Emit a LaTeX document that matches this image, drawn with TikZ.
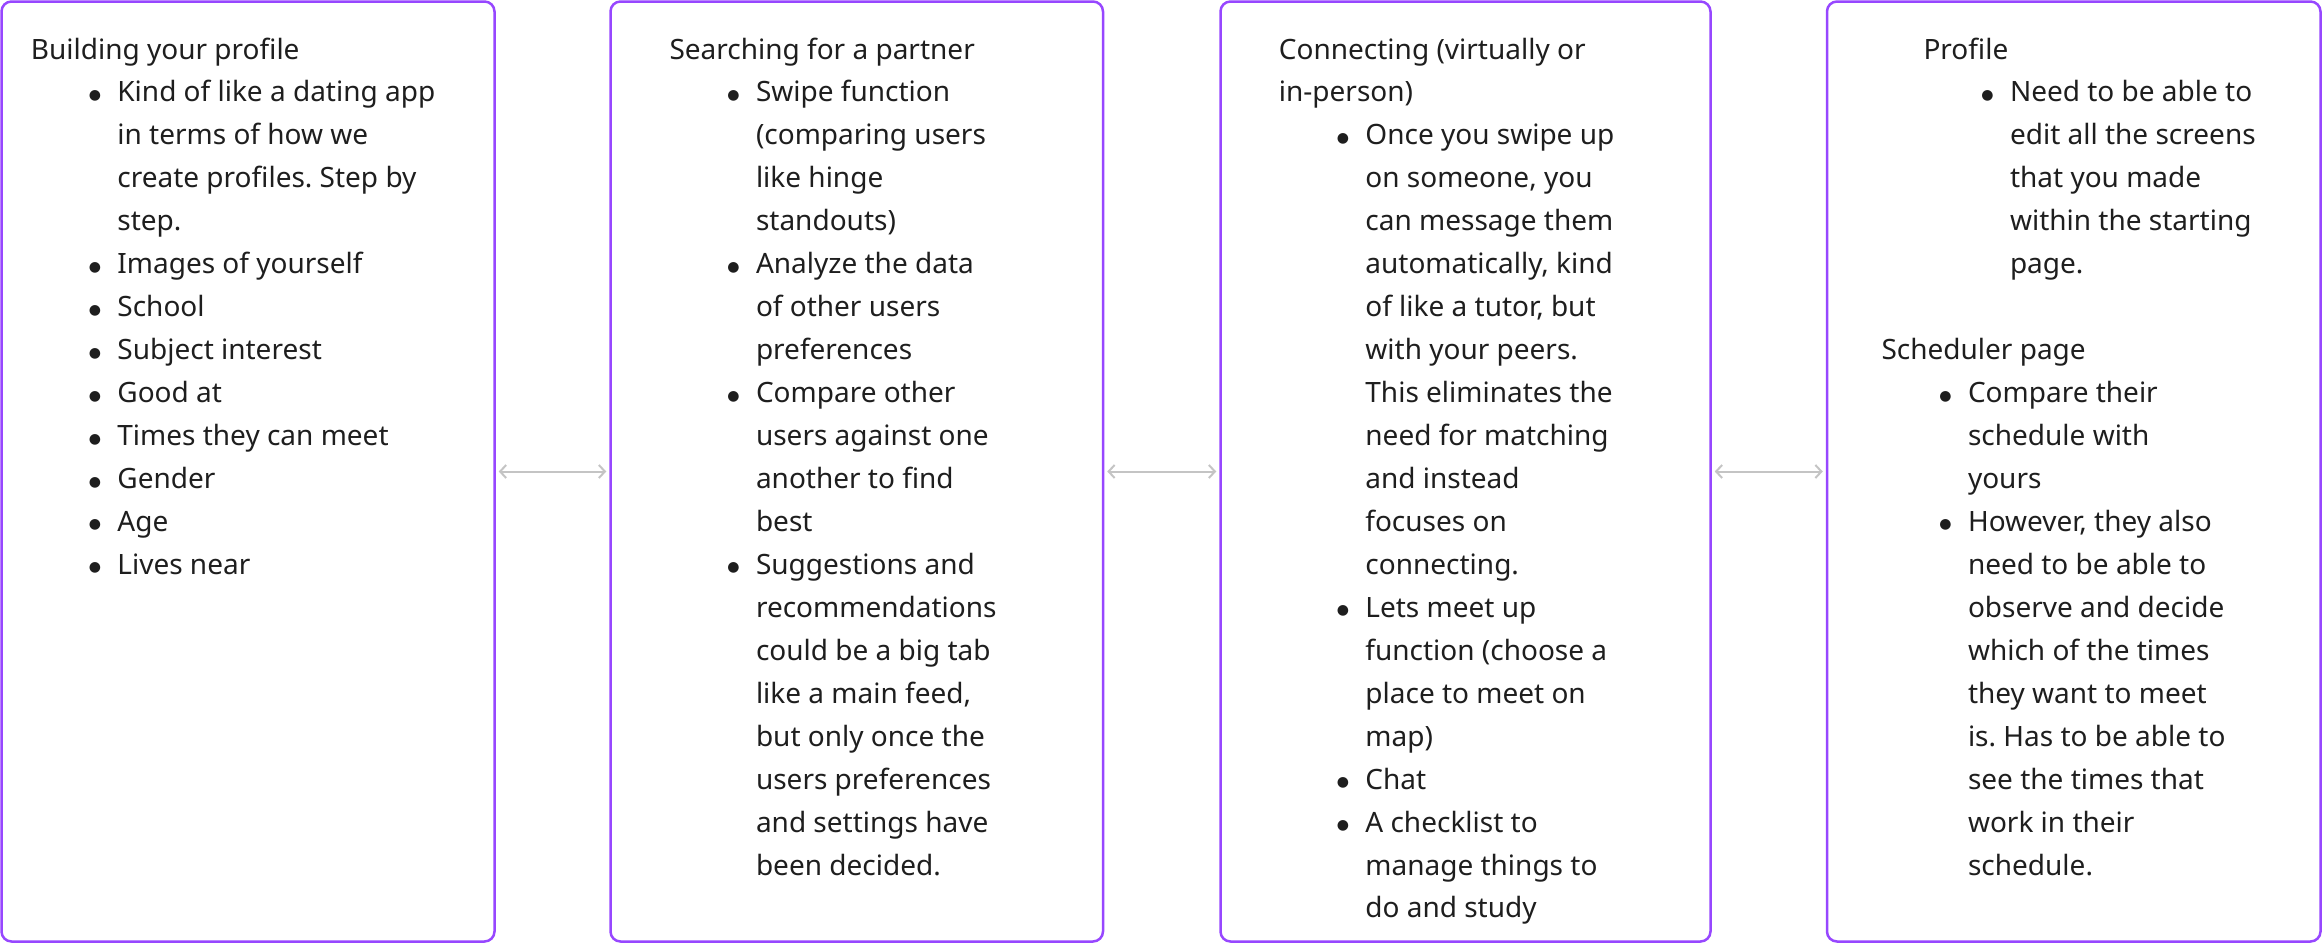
\documentclass[tikz,border=0pt]{standalone}
\usepackage{fontspec}
\setmainfont{Noto Sans}
\newfontfamily\dejavu{DejaVu Sans}
\usetikzlibrary{arrows.meta}
\definecolor{frame}{HTML}{9747FF}
\definecolor{ink}{HTML}{1E1E1E}
\definecolor{linkc}{HTML}{C4C4C4}
\frenchspacing
\newdimen\mybx \mybx=64pt
\newdimen\mytx \mytx=86.5pt
\newcommand\dotmark{\raisebox{2.5pt}{\dejavu\fontsize{14pt}{14pt}\selectfont ●}}
\newcommand\bl[1]{\hbox{\hskip\mybx\makebox[0pt]{\dotmark}\hskip\dimexpr\mytx-\mybx\relax #1}}
\newcommand\cl[1]{\hbox{\hskip\mytx #1}}
\newcommand\hl[1]{\hbox{#1}}
\newcommand\lines[1]{\vtop{\fontsize{28pt}{42.95pt}\selectfont #1}}
\begin{document}
\begin{tikzpicture}[x=1pt,y=-1pt,
  box/.style={draw=frame, line width=2.5pt, rounded corners=10pt, inner sep=0pt, minimum height=940pt},
  txt/.style={anchor=base west, inner sep=0pt, text=ink},
  link/.style={draw=linkc, line width=2pt, {Straight Barb[length=6pt,width=13pt]}-{Straight Barb[length=6pt,width=13pt]}, shorten >=3pt, shorten <=3pt}]
\useasboundingbox (0,0) rectangle (2322,945);
\node[box, minimum width=493pt] (b1) at (248,471.5) {};
\node[box, minimum width=492.5pt] (b2) at (856.75,471.5) {};
\node[box, minimum width=490pt] (b3) at (1465.5,471.5) {};
\node[box, minimum width=493.5pt] (b4) at (2073.75,471.5) {};
\draw[link] (b1.east) -- (b2.west);
\draw[link] (b2.east) -- (b3.west);
\draw[link] (b3.east) -- (b4.west);
\node[txt] (t1) at (30.7,59) {\lines{%
\hl{Building your profile}
\bl{Kind of like a dating app}
\cl{in terms of how we}
\cl{create profiles. Step by}
\cl{step.}
\bl{Images of yourself}
\bl{School}
\bl{Subject interest}
\bl{Good at}
\bl{Times they can meet}
\bl{Gender}
\bl{Age}
\bl{Lives near}}};
\node[txt] (t2) at (669.3,59) {\lines{%
\hl{Searching for a partner}
\bl{Swipe function}
\cl{(comparing users}
\cl{like hinge}
\cl{standouts)}
\bl{Analyze the data}
\cl{of other users}
\cl{preferences}
\bl{Compare other}
\cl{users against one}
\cl{another to find}
\cl{best}
\bl{Suggestions and}
\cl{recommendations}
\cl{could be a big tab}
\cl{like a main feed,}
\cl{but only once the}
\cl{users preferences}
\cl{and settings have}
\cl{been decided.}}};
\node[txt] (t3) at (1278.7,59) {\lines{%
\hl{Connecting (virtually or}
\hl{in-person)}
\bl{Once you swipe up}
\cl{on someone, you}
\cl{can message them}
\cl{automatically, kind}
\cl{of like a tutor, but}
\cl{with your peers.}
\cl{This eliminates the}
\cl{need for matching}
\cl{and instead}
\cl{focuses on}
\cl{connecting.}
\bl{Lets meet up}
\cl{function (choose a}
\cl{place to meet on}
\cl{map)}
\bl{Chat}
\bl{A checklist to}
\cl{manage things to}
\cl{do and study}}};
\node[txt] (t4a) at (1923.3,59) {\lines{%
\hl{Profile}
\bl{Need to be able to}
\cl{edit all the screens}
\cl{that you made}
\cl{within the starting}
\cl{page.}}};
\node[txt] (t4b) at (1881.3,359.65) {\lines{%
\hl{Scheduler page}
\bl{Compare their}
\cl{schedule with}
\cl{yours}
\bl{However, they also}
\cl{need to be able to}
\cl{observe and decide}
\cl{which of the times}
\cl{they want to meet}
\cl{is. Has to be able to}
\cl{see the times that}
\cl{work in their}
\cl{schedule.}}};
\end{tikzpicture}
\end{document}
